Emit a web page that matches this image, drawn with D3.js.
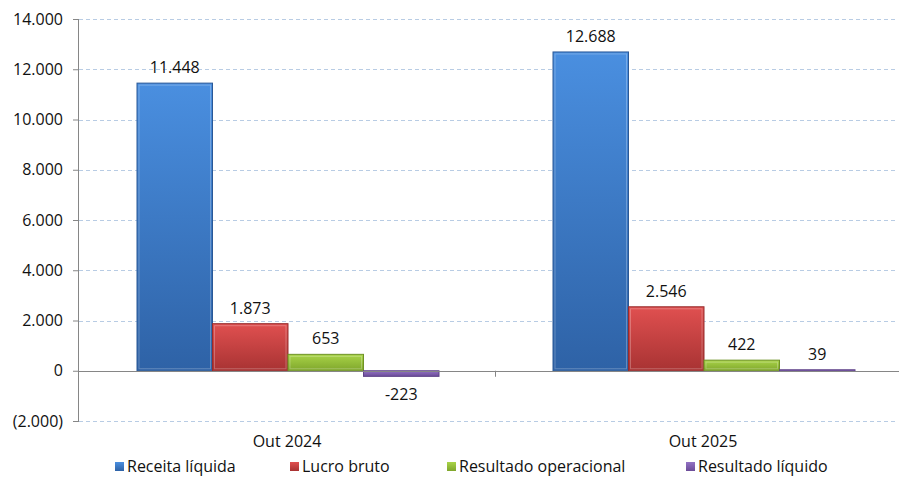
<!DOCTYPE html>
<html><head><meta charset="utf-8">
<script src="https://cdn.jsdelivr.net/npm/d3@7"></script>
<style>body{margin:0;background:#fff}svg{display:block}text{font-family:"Open Sans",sans-serif;fill:#111}</style>
</head><body><svg id="c" width="899" height="477"></svg>
<script>
const categories = ["Out 2024", "Out 2025"];
const seriesNames = ["Receita líquida", "Lucro bruto", "Resultado operacional", "Resultado líquido"];
const receita = [11448, 12688];
const lucro = [1873, 2546];
const operacional = [653, 422];
const liquido = [-223, 39];
const yTicks = [-2000, 0, 2000, 4000, 6000, 8000, 10000, 12000, 14000];
const colors = [
  {top:"#4a8fe0", bot:"#2e62a6", edge:"#2a5896"},
  {top:"#e05050", bot:"#a83333", edge:"#962c2c"},
  {top:"#a9d448", bot:"#7fa62c", edge:"#6f9226"},
  {top:"#9272c4", bot:"#6c4c98", edge:"#5e4288"}
];
const series = [receita, lucro, operacional, liquido];

const svg = d3.select("#c");
const pLeft = 79, pRight = 911, pTop = 19, pBottom = 421;
const fs = "16px";
const y = d3.scaleLinear().domain([-2000, 14000]).range([pBottom, pTop]);
const x0 = d3.scaleBand().domain(categories).range([pLeft, pRight]).paddingInner(0).paddingOuter(0);
const x1 = d3.scaleBand().domain(d3.range(4)).range([58, 360]).padding(0);

const defs = svg.append("defs");
colors.forEach((c, i) => {
  const g = defs.append("linearGradient").attr("id", "g" + i).attr("x1", 0).attr("y1", 0).attr("x2", 0).attr("y2", 1);
  g.append("stop").attr("offset", "0%").attr("stop-color", c.top);
  g.append("stop").attr("offset", "100%").attr("stop-color", c.bot);
});

// grid
svg.append("g").selectAll("line").data(yTicks.filter(t => t !== 0)).join("line")
  .attr("x1", pLeft).attr("x2", 898).attr("y1", d => Math.round(y(d)) + 0.5).attr("y2", d => Math.round(y(d)) + 0.5)
  .attr("stroke", "#b8cce4").attr("stroke-dasharray", "4,3").attr("stroke-width", 1);

// y axis
const yAxis = d3.axisLeft(y).tickValues(yTicks).tickSize(6).tickPadding(10)
  .tickFormat(d => {
    const s = d3.format(",")(Math.abs(d)).replace(/,/g, ".");
    return d < 0 ? "(" + s + ")" : s;
  });
const ya = svg.append("g").attr("transform", `translate(${pLeft},0)`).call(yAxis);
ya.select(".domain").attr("stroke", "#868686").attr("d", `M-0.5,${pTop}V${pBottom}`);
ya.selectAll(".tick line").attr("stroke", "#868686");
ya.selectAll(".tick text").style("font-size", fs).style("font-family", "Open Sans").attr("fill", "#111");

// bars
categories.forEach((cat, ci) => {
  const g = svg.append("g").attr("transform", `translate(${x0(cat)},0)`);
  series.forEach((s, si) => {
    const v = s[ci];
    const bx = x1(si), bw = x1.bandwidth();
    const y0 = y(Math.max(0, v)), h = Math.max(1.5, Math.abs(y(v) - y(0)));
    g.append("rect").attr("x", bx).attr("y", y0).attr("width", bw).attr("height", h)
      .attr("fill", `url(#g${si})`).attr("stroke", colors[si].edge).attr("stroke-width", 1);
    if (h > 6) {
      g.append("rect").attr("x", bx + 2).attr("y", y0 + 2).attr("width", bw - 4).attr("height", h - 4)
        .attr("fill", "none").attr("stroke", "#ffffff").attr("stroke-opacity", 0.25).attr("stroke-width", 1);
    }
    const label = d3.format(",")(v).replace(/,/g, ".").replace("−", "-");
    const ly = v >= 0 ? y(v) - 10 : y(v) + 24;
    g.append("text").attr("x", bx + bw / 2).attr("y", ly).attr("text-anchor", "middle")
      .style("font-size", fs).text(label);
  });
});

// x axis (zero line)
svg.append("line").attr("x1", pLeft).attr("x2", 899).attr("y1", Math.round(y(0)) + 0.5).attr("y2", Math.round(y(0)) + 0.5).attr("stroke", "#868686");
svg.append("line").attr("x1", x0("Out 2025") + 0.5).attr("x2", x0("Out 2025") + 0.5).attr("y1", y(0)).attr("y2", y(0) + 6).attr("stroke", "#868686");

// category labels
svg.append("g").selectAll("text").data(categories).join("text")
  .attr("x", d => x0(d) + x0.bandwidth() / 2).attr("y", 447).attr("text-anchor", "middle")
  .style("font-size", fs).text(d => d);

// legend
const legX = [115, 290, 447, 686];
const leg = svg.append("g").selectAll("g").data(seriesNames).join("g")
  .attr("transform", (d, i) => `translate(${legX[i]},0)`);
leg.append("rect").attr("x", 0).attr("y", 462).attr("width", 9).attr("height", 9)
  .attr("fill", (d, i) => `url(#g${i})`);
leg.append("text").attr("x", 12).attr("y", 472).style("font-size", fs).text(d => d);
</script></body></html>
